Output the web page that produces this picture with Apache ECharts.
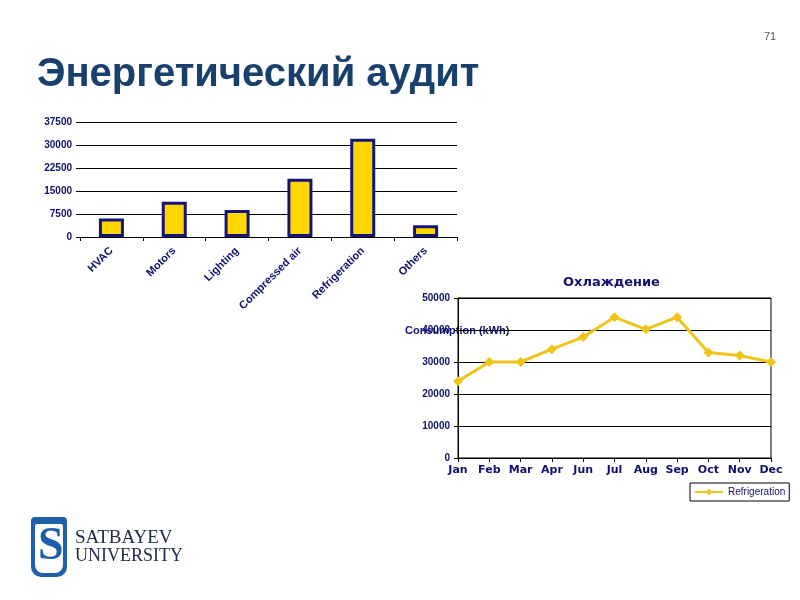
<!DOCTYPE html>
<html>
<head>
<meta charset="utf-8">
<script src="https://cdn.jsdelivr.net/npm/echarts@6/dist/echarts.min.js"></script>
<style>
  html, body { margin: 0; padding: 0; background: #fff; }
  #chart { width: 800px; height: 600px; }
</style>
</head>
<body>
<div id="chart"></div>
<script>
// energy audit by area (kWh)
const areas = ["HVAC", "Motors", "Lighting", "Compressed air", "Refrigeration", "Others"];
const areaValues = [6000, 11500, 8800, 19000, 32000, 3800];

// refrigeration monthly consumption
const months = ["Jan", "Feb", "Mar", "Apr", "Jun", "Jul", "Aug", "Sep", "Oct", "Nov", "Dec"];
const refrigeration = [24000, 30000, 30000, 34000, 37800, 44000, 40200, 44000, 33000, 32000, 30000];

const navy = "#10106e";
const plain = v => String(v);
const chart = echarts.init(document.getElementById("chart"));

chart.setOption({
    animation: false,
    textStyle: { fontFamily: "Liberation Sans, Arial, sans-serif" },
    grid: [
        { left: 80, right: 343, top: 122, bottom: 363 },
        { left: 458, right: 29, top: 298, bottom: 142, show: true, borderColor: "#000", borderWidth: 1 }
    ],
    xAxis: [
        {
            gridIndex: 0,
            type: "category",
            data: areas,
            axisLine: { lineStyle: { color: "#000" } },
            axisTick: { show: true, length: 4, lineStyle: { color: "#000" } },
            axisLabel: { rotate: 45, color: navy, fontWeight: "bold", fontSize: 11, margin: 12, interval: 0 }
        },
        {
            gridIndex: 1,
            type: "category",
            data: months,
            boundaryGap: false,
            axisLine: { lineStyle: { color: "#000" } },
            axisTick: { show: true, length: 4, lineStyle: { color: "#000" } },
            axisLabel: { color: navy, fontWeight: "bold", fontSize: 11, margin: 7, interval: 0, fontFamily: "DejaVu Sans, sans-serif" }
        }
    ],
    yAxis: [
        {
            gridIndex: 0,
            type: "value",
            min: 0, max: 37500, interval: 7500,
            axisLine: { show: false },
            axisTick: { show: true, length: 4, lineStyle: { color: "#000" } },
            axisLabel: { color: navy, fontWeight: "bold", fontSize: 10, margin: 8, formatter: plain },
            splitLine: { lineStyle: { color: "#000", width: 1 } }
        },
        {
            gridIndex: 1,
            type: "value",
            min: 0, max: 50000, interval: 10000,
            axisLine: { show: true, lineStyle: { color: "#000" } },
            axisTick: { show: true, length: 4, lineStyle: { color: "#000" } },
            axisLabel: { color: navy, fontWeight: "bold", fontSize: 10, margin: 8, formatter: plain },
            splitLine: { lineStyle: { color: "#000", width: 1 } }
        }
    ],
    legend: {
        data: ["Refrigeration"],
        left: 690, top: 483,
        width: 100,
        padding: [4, 4, 4, 4],
        borderColor: "#000", borderWidth: 1,
        itemWidth: 28, itemHeight: 8,
        textStyle: { color: navy, fontSize: 10 }
    },
    series: [
        {
            type: "bar",
            xAxisIndex: 0, yAxisIndex: 0,
            data: areaValues,
            barWidth: 25,
            itemStyle: { color: "#ffd700", borderColor: "#14147a", borderWidth: 3 }
        },
        {
            name: "Refrigeration",
            type: "line",
            xAxisIndex: 1, yAxisIndex: 1,
            data: refrigeration,
            symbol: "diamond",
            symbolSize: 10,
            lineStyle: { color: "#f0c419", width: 3 },
            itemStyle: { color: "#f0c419" }
        }
    ],
    graphic: [
        { type: "text", left: 37, top: 55, style: { text: "Энергетический аудит", fill: "#17406d", font: "bold 40px Liberation Sans, Arial, sans-serif" } },
        { type: "text", left: 764, top: 31, style: { text: "71", fill: "#555", font: "11px Liberation Sans, Arial, sans-serif" } },
        { type: "text", left: 563, top: 276, style: { text: "Охлаждение", fill: navy, font: "bold 13px DejaVu Sans, sans-serif" } },
        { type: "text", left: 405, top: 325, style: { text: "Consumption (kWh)", fill: navy, font: "bold 11px Liberation Sans, Arial, sans-serif" } },
        // logo
        { type: "rect", shape: { x: 31, y: 517, width: 36, height: 60, r: [4, 4, 10, 10] }, style: { fill: "#1d5fa8" } },
        { type: "rect", shape: { x: 35, y: 524, width: 28, height: 49, r: [2, 2, 8, 8] }, style: { fill: "#fff" } },
        { type: "text", left: 38, top: 524, style: { text: "S", fill: "#1d5fa8", font: "bold 46px Liberation Serif, serif" } },
        { type: "text", left: 75, top: 529, style: { text: "SATBAYEV", fill: "#1b2a4a", font: "19px Liberation Serif, serif" } },
        { type: "text", left: 75, top: 547, style: { text: "UNIVERSITY", fill: "#1b2a4a", font: "18px Liberation Serif, serif" } }
    ]
});
</script>
</body>
</html>
